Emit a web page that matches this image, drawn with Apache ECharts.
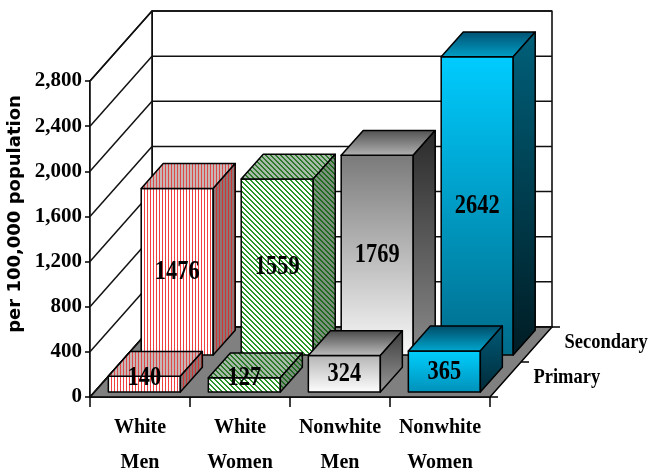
<!DOCTYPE html>
<html><head><meta charset="utf-8">
<script src="https://cdn.jsdelivr.net/npm/echarts@6/dist/echarts.min.js"></script>
<style>html,body{margin:0;padding:0;background:#fff}#c{width:651px;height:470px}</style>
</head><body><div id="c"></div>
<script>
const categories = ['White\nMen', 'White\nWomen', 'Nonwhite\nMen', 'Nonwhite\nWomen'];
const rowNames = ['Primary', 'Secondary'];
const primaryValues = [140, 127, 324, 365];
const secondaryValues = [1476, 1559, 1769, 2642];
const yTicks = [0, 400, 800, 1200, 1600, 2000, 2400, 2800];

// 3D look (layout only)
const DX = 62, DY = -70;
const ROW_FRONT = [0.07, 0.6];
const BAR_DEPTH = 0.355;
const BAR_HALF = 0.36;

function stripe(bg, fg, kind) {
  const c = document.createElement('canvas');
  const g = c.getContext('2d');
  if (kind === 'v') {
    c.width = 3; c.height = 3;
    g.fillStyle = bg; g.fillRect(0, 0, 3, 3);
    g.fillStyle = fg; g.fillRect(0, 0, 1, 3);
  } else {
    const n = 5; c.width = n; c.height = n;
    g.fillStyle = bg; g.fillRect(0, 0, n, n);
    g.fillStyle = fg;
    for (let i = 0; i < n; i++) { g.fillRect(i, i, 1, 1); g.fillRect((i + 1) % n, i, 1, 1); }
  }
  return { image: c, repeat: 'repeat' };
}
function lin(a, b) {
  return new echarts.graphic.LinearGradient(0, 0, 0, 1, [{ offset: 0, color: a }, { offset: 1, color: b }]);
}
const redS = { front: stripe('#ffffff', '#f04040', 'v'), top: stripe('#c6b6b6', '#e04848', 'v'), side: stripe('#8c7676', '#d03434', 'v') };
const greenS = { front: stripe('#ffffff', '#2a962a', 'd'), top: stripe('#aabaaa', '#2a7a2a', 'd'), side: stripe('#7e907e', '#1e6a1e', 'd') };
const styles = [
  [redS, greenS,
   { front: lin('#b4b4b4', '#ffffff'), top: lin('#484848', '#c0c0c0'), side: lin('#3a3a3a', '#9a9a9a') },
   { front: lin('#00d0ff', '#0090b8'), top: lin('#004a66', '#00a8d0'), side: lin('#005a78', '#002a38') }],
  [redS, greenS,
   { front: lin('#7a7a7a', '#fafafa'), top: lin('#505050', '#b4b4b4'), side: lin('#2a2a2a', '#8a8a8a') },
   { front: lin('#00ccff', '#006b8a'), top: lin('#005070', '#00a0c8'), side: lin('#00607a', '#001c24') }]
];

const chart = echarts.init(document.getElementById('c'));
const lineS = { stroke: '#000', lineWidth: 1.5, lineJoin: 'round' };

function bars(row, values) {
  return {
    type: 'custom', name: rowNames[row], z: 3 + (1 - row), silent: true,
    data: values.map((v, i) => [i, v]), encode: { x: 0, y: 1 },
    renderItem(params, api) {
      const cat = api.value(0), v = api.value(1);
      const base = api.coord([cat, 0]), top = api.coord([cat, v]);
      const band = api.size([1, 0])[0];
      const f = ROW_FRONT[row];
      const x1 = base[0] - band * BAR_HALF + f * DX, x2 = base[0] + band * BAR_HALF + f * DX;
      const yb = base[1] + f * DY, yt = top[1] + f * DY;
      const ddx = BAR_DEPTH * DX, ddy = BAR_DEPTH * DY;
      const st = styles[row][cat];
      return { type: 'group', children: [
        { type: 'polygon', shape: { points: [[x1, yb], [x2, yb], [x2, yt], [x1, yt]] }, style: Object.assign({ fill: st.front }, lineS) },
        { type: 'polygon', shape: { points: [[x1, yt], [x2, yt], [x2 + ddx, yt + ddy], [x1 + ddx, yt + ddy]] }, style: Object.assign({ fill: st.top }, lineS) },
        { type: 'polygon', shape: { points: [[x2, yb], [x2 + ddx, yb + ddy], [x2 + ddx, yt + ddy], [x2, yt]] }, style: Object.assign({ fill: st.side }, lineS) },
        { type: 'text', x: (x1 + x2) / 2, y: Math.min((yb + yt) / 2, yb - 14), scaleX: 0.8,
          style: { text: String(v), x: 0, y: 0, align: 'center', verticalAlign: 'middle', font: 'bold 28px "Liberation Serif"', fill: '#000' } }
      ] };
    }
  };
}

chart.setOption({
  animation: false,
  backgroundColor: '#fff',
  grid: { left: 90, top: 81, width: 400, height: 316, outerBoundsMode: 'none', containLabel: false },
  xAxis: {
    type: 'category', data: categories,
    axisLine: { lineStyle: { color: '#000', width: 1.5 } },
    axisTick: { show: true, length: 10, lineStyle: { color: '#000', width: 1.5 } },
    axisLabel: { interval: 0, margin: 13, color: '#000', fontFamily: 'Liberation Serif', fontWeight: 'bold', fontSize: 20, lineHeight: 35 }
  },
  yAxis: {
    type: 'value', min: 0, max: 2800, interval: 400,
    name: 'per 100,000 population', nameLocation: 'middle', nameGap: 62, nameRotate: 90,
    nameTextStyle: { fontFamily: 'DejaVu Sans', fontWeight: 'bold', fontSize: 18, color: '#000', padding: [0, 0, 0, 50] },
    axisLine: { show: true, lineStyle: { color: '#000', width: 1.5 } },
    axisTick: { show: true, length: 5, lineStyle: { color: '#000', width: 1.5 } },
    splitLine: { show: false },
    axisLabel: { margin: 8, color: '#000', fontFamily: 'Liberation Serif', fontWeight: 'bold', fontSize: 21,
      formatter: v => v.toLocaleString('en-US') }
  },
  series: [
    { type: 'custom', name: 'walls', z: 1, silent: true, data: [[0, 0]], encode: { x: 0, y: 1 },
      renderItem(params, api) {
        const cs = params.coordSys;
        const L = cs.x, R = cs.x + cs.width;
        const T = api.coord([0, yTicks[yTicks.length - 1]])[1], B = api.coord([0, 0])[1];
        const kids = [
          { type: 'polygon', shape: { points: [[L + DX, T + DY], [R + DX, T + DY], [R + DX, B + DY], [L + DX, B + DY]] }, style: Object.assign({ fill: '#fff' }, lineS) },
          { type: 'polygon', shape: { points: [[L, T], [L + DX, T + DY], [L + DX, B + DY], [L, B]] }, style: Object.assign({ fill: '#fff' }, lineS) },
          { type: 'polygon', shape: { points: [[L, B], [R, B], [R + DX, B + DY], [L + DX, B + DY]] }, style: Object.assign({ fill: '#808080' }, lineS) }
        ];
        [0, 0.5, 1].forEach(f => {
          const px = R + f * DX, py = B + f * DY;
          kids.push({ type: 'line', shape: { x1: px, y1: py, x2: px + 8, y2: py }, style: lineS });
        });
        rowNames.forEach((n, i) => {
          const f = 0.25 + 0.5 * i;
          kids.push({ type: 'text', x: R + f * DX + 28, y: B + f * DY - 2, scaleX: 0.84,
            style: { text: n, x: 0, y: 0, align: 'left', verticalAlign: 'middle', font: 'bold 22px "Liberation Serif"', fill: '#000' } });
        });
        return { type: 'group', children: kids };
      } },
    { type: 'custom', name: 'grid', z: 2, silent: true, data: yTicks.map(t => [0, t]), encode: { x: 0, y: 1 },
      renderItem(params, api) {
        const cs = params.coordSys;
        const L = cs.x, R = cs.x + cs.width;
        const y = api.coord([0, api.value(1)])[1];
        return { type: 'group', children: [
          { type: 'line', shape: { x1: L, y1: y, x2: L + DX, y2: y + DY }, style: { stroke: '#111', lineWidth: 1.5 } },
          { type: 'line', shape: { x1: L + DX, y1: y + DY, x2: R + DX, y2: y + DY }, style: { stroke: '#111', lineWidth: 1.5 } }
        ] };
      } },
    bars(1, secondaryValues),
    bars(0, primaryValues)
  ]
});
</script></body></html>
